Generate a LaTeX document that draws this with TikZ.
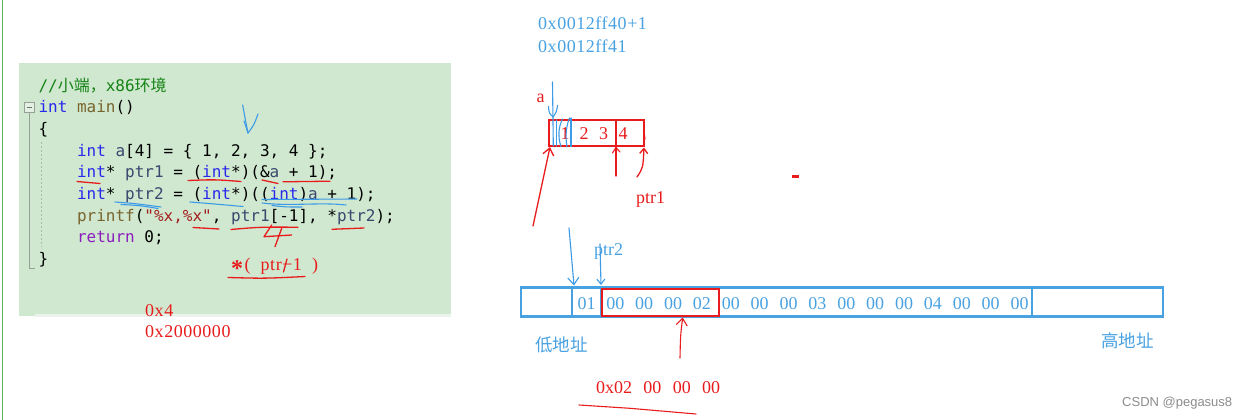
\documentclass[tikz,border=0pt]{standalone}
\usepackage{fontspec}
\setmainfont{Liberation Serif}
\newfontfamily\codefont{DejaVu Sans Mono}
\newfontfamily\cjk{Noto Sans CJK SC}
\newfontfamily\hexfont{Liberation Serif}[LetterSpace=3]
\newfontfamily\wmfont{Liberation Sans}
\usetikzlibrary{arrows.meta}
\definecolor{panel}{RGB}{207,232,207}
\definecolor{panelstrip}{RGB}{236,242,236}
\definecolor{kwblue}{RGB}{40,40,235}
\definecolor{kwpurple}{RGB}{140,30,190}
\definecolor{fnbrown}{RGB}{120,100,45}
\definecolor{strred}{RGB}{165,30,30}
\definecolor{idcol}{RGB}{60,70,110}
\definecolor{cmtgreen}{RGB}{20,130,20}
\definecolor{hred}{RGB}{232,28,28}
\definecolor{hblue}{RGB}{60,155,230}
\definecolor{tblue}{RGB}{72,162,226}
\definecolor{wmgray}{RGB}{140,140,140}
\definecolor{leftgreen}{RGB}{90,180,90}
\definecolor{foldgray}{RGB}{150,160,150}
\newcommand\cKw[1]{\textcolor{kwblue}{#1}}
\newcommand\cKp[1]{\textcolor{kwpurple}{#1}}
\newcommand\cFn[1]{\textcolor{fnbrown}{#1}}
\newcommand\cStr[1]{\textcolor{strred}{#1}}
\newcommand\cId[1]{\textcolor{idcol}{#1}}
\begin{document}
\begin{tikzpicture}[x=1pt,y=-1pt,
  codeline/.style={anchor=base west,inner sep=0pt,font=\codefont\fontsize{16}{16}\selectfont},
  hexblue/.style={anchor=base west,inner sep=0pt,text=tblue,font=\hexfont\fontsize{18}{18}\selectfont},
  hexred/.style={anchor=base west,inner sep=0pt,text=hred,font=\hexfont\fontsize{18}{18}\selectfont},
  bytetext/.style={anchor=base,inner sep=0pt,text=tblue,font=\fontsize{18}{18}\selectfont},
  celltext/.style={anchor=base,inner sep=0pt,text=hred,font=\fontsize{18}{18}\selectfont},
  cjklabel/.style={anchor=center,inner sep=0pt,text=tblue,font=\cjk\fontsize{17.5}{17.5}\selectfont},
  redpen/.style={draw=hred,line width=1.3pt,line cap=round,line join=round},
  bluepen/.style={draw=hblue,line width=1.1pt,line cap=round,line join=round},
  barb/.style={-{Straight Barb[length=7pt,width=11pt]}},
  smallbarb/.style={-{Straight Barb[length=5pt,width=8pt]}}
]
\useasboundingbox (0,0) rectangle (1248,420);
\fill[white] (0,0) rectangle (1248,420);
% left green edge
\draw[leftgreen,line width=1.5pt] (2.5,0) -- (2.5,420);
% code panel
\fill[panel] (19,63) rectangle (451,316);
\fill[panelstrip] (35,313.5) rectangle (451,316.5);
% fold marker
\draw[foldgray,line width=0.8pt,fill=panel!60!white] (24,102) rectangle (34.5,112.5);
\draw[foldgray!70!black,line width=0.9pt] (26.5,107.2) -- (32,107.2);
\draw[foldgray,line width=0.8pt] (29.2,112.5) -- (29.2,268) -- (35,268);
\draw[foldgray!60!panel,line width=0.8pt,dash pattern=on 2pt off 2pt] (41,142) -- (41,247);
% code text
\node[codeline,text=cmtgreen] (l1) at (38.3,91.4) {//{\cjk 小端，}x86{\cjk 环境}};
\node[codeline] (l2) at (38.3,113) {\cKw{int} \cFn{main}()};
\node[codeline] (l3) at (38.3,134.6) {\{};
\node[codeline] (l4) at (76.8,156.2) {\cKw{int} \cId{a}[4] = \{ 1, 2, 3, 4 \};};
\node[codeline] (l5) at (76.8,177.8) {\cKw{int}* \cId{ptr1} = (\cKw{int}*)(\&\cId{a} + 1);};
\node[codeline] (l6) at (76.8,199.4) {\cKw{int}* \cId{ptr2} = (\cKw{int}*)((\cKw{int})\cId{a} + 1);};
\node[codeline] (l7) at (76.8,221) {\cFn{printf}(\cStr{"\%x,\%x"}, \cId{ptr1}[-1], *\cId{ptr2});};
\node[codeline] (l8) at (76.8,242.6) {\cKp{return} 0;};
\node[codeline] (l9) at (38.3,264.2) {\}};
% red annotations on code
\node[anchor=base west,inner sep=0pt,text=hred,font=\hexfont\fontsize{18}{18}\selectfont] (deref) at (231,270)
  {\raisebox{-6.5pt}{\fontsize{24}{24}\selectfont\bfseries *}\hspace{1.5pt}(\hspace{10pt}ptr\textminus1\hspace{10pt})};
\node[hexred] (v4) at (145,316) {0x4};
\node[hexred] (v2m) at (145,337.3) {0x2000000};
\draw[redpen] (77,181.5) .. controls (88,182) .. (100,183.5);
\draw[redpen] (188,180.5) .. controls (215,179.5) .. (241,181.5);
\draw[redpen] (262,180) .. controls (270,181) .. (278,183.5);
\draw[redpen] (283,181.8) -- (330,181.2);
\draw[redpen] (193,227.5) -- (219,229);
\draw[redpen] (231,229.5) .. controls (260,227) .. (298,227.2);
\draw[redpen] (271.7,225) -- (264,236.7) -- (291.7,235);
\draw[redpen] (281.7,228.3) -- (275,246.7);
\draw[redpen] (332,229.3) -- (364,228);
\draw[redpen] (228,277.5) .. controls (265,278.5) .. (305,276.5);
\draw[redpen] (287,259) -- (283.5,272);
% blue annotations on code
\draw[bluepen] (242.7,105) .. controls (245,118) .. (248,133);
\draw[bluepen] (244,121) -- (248,133);
\draw[bluepen] (258,114) .. controls (254,125) .. (248,133);
\draw[bluepen] (115,202) .. controls (135,203.5) .. (161,207);
\draw[bluepen] (121,204.5) .. controls (140,205.5) .. (158,208.5);
\draw[bluepen] (190,202) .. controls (215,204) .. (243,206.5);
\draw[bluepen] (262,199.5) -- (357,199);
\draw[bluepen] (262,203) .. controls (290,206.5) and (320,202) .. (346,205);
\draw[bluepen] (272,205.5) .. controls (285,207) .. (302,207);
% right side: addresses
\node[hexblue] (addr1) at (538,30) {0x0012ff40+1};
\node[hexblue] (addr2) at (538,52.3) {0x0012ff41};
\node[anchor=base west,inner sep=0pt,text=hred,font=\fontsize{18}{18}\selectfont] (la) at (536.5,102.7) {a};
% small array box
\node[draw=hred,line width=2pt,minimum width=94.5pt,minimum height=26.2pt,inner sep=0pt] (arr) at (596.25,132.6) {};
\node[celltext] (c1) at (565,139) {1};
\node[celltext] (c2) at (584,139) {2};
\node[celltext] (c3) at (603.5,139) {3};
\node[celltext] (c4) at (623,139) {4};
\draw[redpen,line width=1.1pt] (616,176) -- (616,120);
\draw[redpen,line width=1.1pt] (612.5,153) -- (616,147.5) -- (620,152);
\draw[redpen,line width=1.1pt] (644.5,135) -- (645,139);
% blue marks in small box
\draw[bluepen] (552.5,82) -- (553.3,146);
\draw[bluepen] (548.5,106.5) .. controls (549,113) .. (553,117);
\draw[bluepen] (557.5,105.5) .. controls (556.5,112) .. (553,117);
\draw[bluepen] (556.2,120) -- (556.2,146);
\draw[bluepen] (562.5,119) .. controls (558,128) and (558,138) .. (561,146.5);
\draw[bluepen] (569.5,118) .. controls (565.5,128) and (565.5,138) .. (567,147);
\draw[bluepen] (571,118) -- (571,146.5);
% red pointer arrows near small box
\coordinate (a1s) at (533,226);
\coordinate (a1e) at (550,147);
\draw[redpen,barb] (a1s) -- (a1e);
\coordinate (a3s) at (637,177);
\coordinate (a3e) at (644,147.5);
\draw[redpen,smallbarb] (a3s) .. controls (643,168) .. (a3e);
\node[anchor=base west,inner sep=0pt,text=hred,font=\fontsize{18}{18}\selectfont] (lptr1) at (636,203.3) {ptr1};
\fill[hred] (792,174.8) rectangle (799,177.6);
% memory row
\node[draw=tblue,line width=2.5pt,minimum width=642pt,minimum height=29pt,inner sep=0pt] (row) at (842,302) {};
\draw[tblue,line width=2pt] (571.7,287.5) -- (571.7,316.5);
\draw[tblue,line width=2pt] (600.7,287.5) -- (600.7,316.5);
\draw[tblue,line width=2pt] (1031.7,287.5) -- (1031.7,316.5);
\node[draw=hred,line width=2pt,minimum width=117pt,minimum height=27.5pt,inner sep=0pt] (sel) at (660.5,302.25) {};
\foreach \b [count=\k from 0] in {01,00,00,00,02,00,00,00,03,00,00,00,04,00,00,00}
  \node[bytetext] (b\k) at (586.5+\k*28.87,309.3) {\b};
\node[cjklabel] (low) at (561.6,345) {低地址};
\node[cjklabel] (high) at (1127.5,341) {高地址};
% blue pointer arrows to row
\coordinate (b6s) at (569,228);
\coordinate (b6e) at (574,285.5);
\draw[bluepen,barb] (b6s) -- (b6e);
\node[anchor=base west,inner sep=0pt,text=tblue,font=\fontsize{18}{18}\selectfont] (lptr2) at (594,255) {ptr2};
\coordinate (b7s) at (600,244);
\coordinate (b7e) at (601,285);
\draw[bluepen,smallbarb] (b7s) -- (b7e);
% red arrow from value to selected bytes
\coordinate (a4s) at (680,358);
\coordinate (a4e) at (682.7,317.5);
\draw[redpen,line width=1.1pt,barb] (a4s) .. controls (680.5,335) .. (a4e);
\node[anchor=base west,inner sep=0pt,text=hred,font=\fontsize{18}{18}\selectfont] (val) at (596,393.3)
  {0x02\hspace{11.3pt}00\hspace{11.3pt}00\hspace{11.3pt}00};
\draw[redpen,line width=1.1pt] (579,405) -- (630,408.3) -- (696,414);
% watermark
\node[anchor=base west,inner sep=0pt,text=wmgray,font=\wmfont\fontsize{13}{13}\selectfont] (wm) at (1122,406.5) {CSDN @pegasus8};
\end{tikzpicture}
\end{document}
